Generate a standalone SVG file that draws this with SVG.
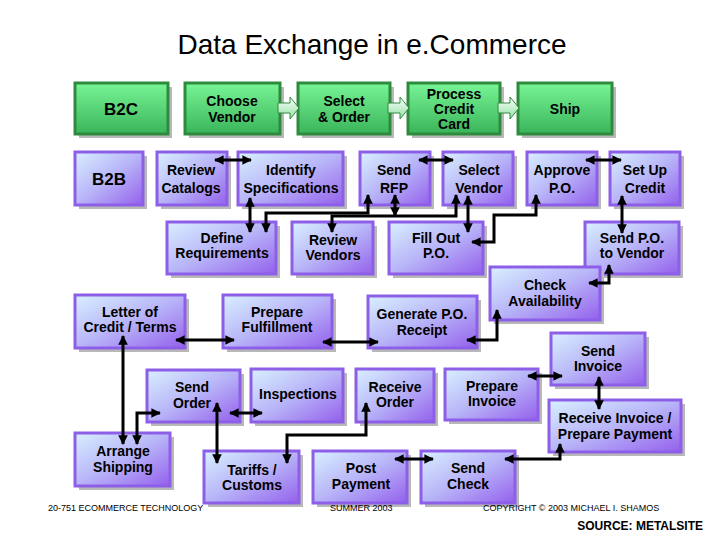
<svg xmlns="http://www.w3.org/2000/svg" width="720" height="540" viewBox="0 0 720 540">
<defs>
<linearGradient id="gg" x1="0" y1="0" x2="0" y2="1"><stop offset="0" stop-color="#78f596"/><stop offset="1" stop-color="#3ab45a"/></linearGradient>
<linearGradient id="pg" x1="0" y1="0" x2="1" y2="1"><stop offset="0" stop-color="#d8f0ff"/><stop offset="0.5" stop-color="#b8b4f8"/><stop offset="1" stop-color="#9460ec"/></linearGradient>
<linearGradient id="ag" x1="0" y1="0" x2="0" y2="1"><stop offset="0" stop-color="#ffffff"/><stop offset="1" stop-color="#8ee0a0"/></linearGradient>
<marker id="ah" viewBox="0 0 10 10" refX="9" refY="5" markerWidth="3.2" markerHeight="3.2" orient="auto-start-reverse" markerUnits="strokeWidth"><path d="M0,0 L10,5 L0,10 z" fill="#000"/></marker>
</defs>
<style>
.g rect.b{fill:url(#gg);stroke:#2e8b3e;stroke-width:3}
.p rect.b{fill:url(#pg);stroke:#8d5fe8;stroke-width:3}
rect.s{fill:#b8b8b8}
text{font-family:"Liberation Sans",Arial,sans-serif;font-weight:bold;font-size:14px;text-anchor:middle;fill:#000}
text.big{font-size:17px}
text.t{font-weight:normal;font-size:28px}
text.f{font-weight:normal;font-size:9px;text-anchor:start}
text.src{font-size:12px;text-anchor:end}
.c path{fill:none;stroke:#000;stroke-width:3;marker-start:url(#ah);marker-end:url(#ah)}
.ba{fill:url(#ag);stroke:#2e8b3e;stroke-width:1}
</style>
<rect width="720" height="540" fill="#fff"/>
<text class="t" x="372" y="54">Data Exchange in e.Commerce</text>

<g id="b2c" class="g"><rect class="s" x="79" y="87" width="93" height="51"/><rect class="b" x="75" y="83" width="93" height="51"/><text class="big" x="121" y="115">B2C</text></g>
<g id="choose" class="g"><rect class="s" x="189" y="87" width="95" height="51"/><rect class="b" x="185" y="83" width="95" height="51"/><text x="232" y="106">Choose</text><text x="232" y="122">Vendor</text></g>
<g id="select" class="g"><rect class="s" x="302" y="87" width="92" height="51"/><rect class="b" x="298" y="83" width="92" height="51"/><text x="344" y="106">Select</text><text x="344" y="122">&amp; Order</text></g>
<g id="process" class="g"><rect class="s" x="412" y="87" width="92" height="51"/><rect class="b" x="408" y="83" width="92" height="51"/><text x="454" y="99">Process</text><text x="454" y="114">Credit</text><text x="454" y="129">Card</text></g>
<g id="ship" class="g"><rect class="s" x="522" y="87" width="94" height="51"/><rect class="b" x="518" y="83" width="94" height="51"/><text x="565" y="114">Ship</text></g>
<g id="blockarrows">
<path class="ba" d="M278,103 h12 v-6 l9,11 l-9,11 v-6 h-12 z"/>
<path class="ba" d="M388,103 h12 v-6 l9,11 l-9,11 v-6 h-12 z"/>
<path class="ba" d="M498,103 h12 v-6 l9,11 l-9,11 v-6 h-12 z"/>
</g>

<g id="b2b" class="p"><rect class="s" x="79" y="156" width="68" height="53"/><rect class="b" x="75" y="152" width="68" height="53"/><text class="big" x="109" y="185">B2B</text></g>
<g id="reviewcat" class="p"><rect class="s" x="161" y="156" width="70" height="53"/><rect class="b" x="157" y="152" width="70" height="53"/><text x="191" y="175">Review</text><text x="191" y="193">Catalogs</text></g>
<g id="identify" class="p"><rect class="s" x="242" y="156" width="105" height="53"/><rect class="b" x="238" y="152" width="105" height="53"/><text x="291" y="175">Identify</text><text x="291" y="193">Specifications</text></g>
<g id="sendrfp" class="p"><rect class="s" x="364" y="156" width="70" height="53"/><rect class="b" x="360" y="152" width="70" height="53"/><text x="394" y="175">Send</text><text x="394" y="193">RFP</text></g>
<g id="selvendor" class="p"><rect class="s" x="447" y="156" width="70" height="53"/><rect class="b" x="443" y="152" width="70" height="53"/><text x="479" y="175">Select</text><text x="479" y="193">Vendor</text></g>
<g id="approve" class="p"><rect class="s" x="531" y="156" width="70" height="53"/><rect class="b" x="527" y="152" width="70" height="53"/><text x="562" y="175">Approve</text><text x="562" y="193">P.O.</text></g>
<g id="setup" class="p"><rect class="s" x="614" y="156" width="70" height="53"/><rect class="b" x="610" y="152" width="70" height="53"/><text x="645" y="175">Set Up</text><text x="645" y="193">Credit</text></g>

<g id="definereq" class="p"><rect class="s" x="171" y="226" width="109" height="52"/><rect class="b" x="167" y="222" width="109" height="52"/><text x="222" y="243">Define</text><text x="222" y="258">Requirements</text></g>
<g id="reviewven" class="p"><rect class="s" x="296" y="226" width="81" height="52"/><rect class="b" x="292" y="222" width="81" height="52"/><text x="333" y="245">Review</text><text x="333" y="260">Vendors</text></g>
<g id="fillout" class="p"><rect class="s" x="393" y="226" width="94" height="52"/><rect class="b" x="389" y="222" width="94" height="52"/><text x="436" y="243">Fill Out</text><text x="436" y="258">P.O.</text></g>
<g id="sendpo" class="p"><rect class="s" x="589" y="226" width="94" height="52"/><rect class="b" x="585" y="222" width="94" height="52"/><text x="632" y="243">Send P.O.</text><text x="632" y="258">to Vendor</text></g>
<g id="checkav" class="p"><rect class="s" x="494" y="271" width="110" height="53"/><rect class="b" x="490" y="267" width="110" height="53"/><text x="545" y="290">Check</text><text x="545" y="306">Availability</text></g>

<g id="letter" class="p"><rect class="s" x="79" y="299" width="110" height="53"/><rect class="b" x="75" y="295" width="110" height="53"/><text x="130" y="317">Letter of</text><text x="130" y="332">Credit / Terms</text></g>
<g id="prepfulfil" class="p"><rect class="s" x="227" y="299" width="109" height="53"/><rect class="b" x="223" y="295" width="109" height="53"/><text x="277" y="317">Prepare</text><text x="277" y="332">Fulfillment</text></g>
<g id="genpo" class="p"><rect class="s" x="372" y="300" width="109" height="52"/><rect class="b" x="368" y="296" width="109" height="52"/><text x="422" y="319">Generate P.O.</text><text x="422" y="335">Receipt</text></g>

<g id="sendinv" class="p"><rect class="s" x="555" y="337" width="94" height="52"/><rect class="b" x="551" y="333" width="94" height="52"/><text x="598" y="356">Send</text><text x="598" y="371">Invoice</text></g>
<g id="sendorder" class="p"><rect class="s" x="151" y="374" width="93" height="52"/><rect class="b" x="147" y="370" width="93" height="52"/><text x="192" y="392">Send</text><text x="192" y="408">Order</text></g>
<g id="inspect" class="p"><rect class="s" x="255" y="373" width="92" height="53"/><rect class="b" x="251" y="369" width="92" height="53"/><text x="298" y="399">Inspections</text></g>
<g id="recvorder" class="p"><rect class="s" x="360" y="373" width="78" height="53"/><rect class="b" x="356" y="369" width="78" height="53"/><text x="395" y="392">Receive</text><text x="395" y="407">Order</text></g>
<g id="prepinv" class="p"><rect class="s" x="449" y="373" width="93" height="51"/><rect class="b" x="445" y="369" width="93" height="51"/><text x="492" y="391">Prepare</text><text x="492" y="406">Invoice</text></g>
<g id="recvinv" class="p"><rect class="s" x="553" y="404" width="132" height="52"/><rect class="b" x="549" y="400" width="132" height="52"/><text x="615" y="423">Receive Invoice /</text><text x="615" y="439">Prepare Payment</text></g>

<g id="arrange" class="p"><rect class="s" x="79" y="437" width="95" height="53"/><rect class="b" x="75" y="433" width="95" height="53"/><text x="123" y="456">Arrange</text><text x="123" y="472">Shipping</text></g>
<g id="tariffs" class="p"><rect class="s" x="208" y="455" width="95" height="52"/><rect class="b" x="204" y="451" width="95" height="52"/><text x="252" y="475">Tariffs /</text><text x="252" y="490">Customs</text></g>
<g id="postpay" class="p"><rect class="s" x="317" y="455" width="94" height="52"/><rect class="b" x="313" y="451" width="94" height="52"/><text x="361" y="473">Post</text><text x="361" y="489">Payment</text></g>
<g id="sendcheck" class="p"><rect class="s" x="425" y="455" width="94" height="52"/><rect class="b" x="421" y="451" width="94" height="52"/><text x="468" y="473">Send</text><text x="468" y="489">Check</text></g>

<g id="connectors" class="c">
<path d="M215,160 H251"/>
<path d="M250,198 V232"/>
<path d="M368,195 V213 H266 V232"/>
<path d="M332,232 V216 H456 V195"/>
<path d="M395,216 V195"/>
<path d="M419,160 H453"/>
<path d="M468,196 V232"/>
<path d="M536,195 V215 H494 V242 H472"/>
<path d="M586,160 H621"/>
<path d="M622,196 V233"/>
<path d="M609,265 V283 H589"/>
<path d="M497,310 V340 H467"/>
<path d="M323,342 H378"/>
<path d="M176,340 H234"/>
<path d="M123,336 V444"/>
<path d="M137,444 V413 H160"/>
<path d="M230,413 H262"/>
<path d="M217,403 V463"/>
<path d="M366,403 V435 H287 V463"/>
<path d="M395,459 H433"/>
<path d="M560,444 V459 H505"/>
<path d="M528,376 H562"/>
<path d="M599,377 V409"/>
</g>

<text class="f" x="48" y="511">20-751 ECOMMERCE TECHNOLOGY</text>
<text class="f" x="330" y="511">SUMMER 2003</text>
<text class="f" x="483" y="511">COPYRIGHT © 2003 MICHAEL I. SHAMOS</text>
<text class="src" x="703" y="530">SOURCE: METALSITE</text>
</svg>
